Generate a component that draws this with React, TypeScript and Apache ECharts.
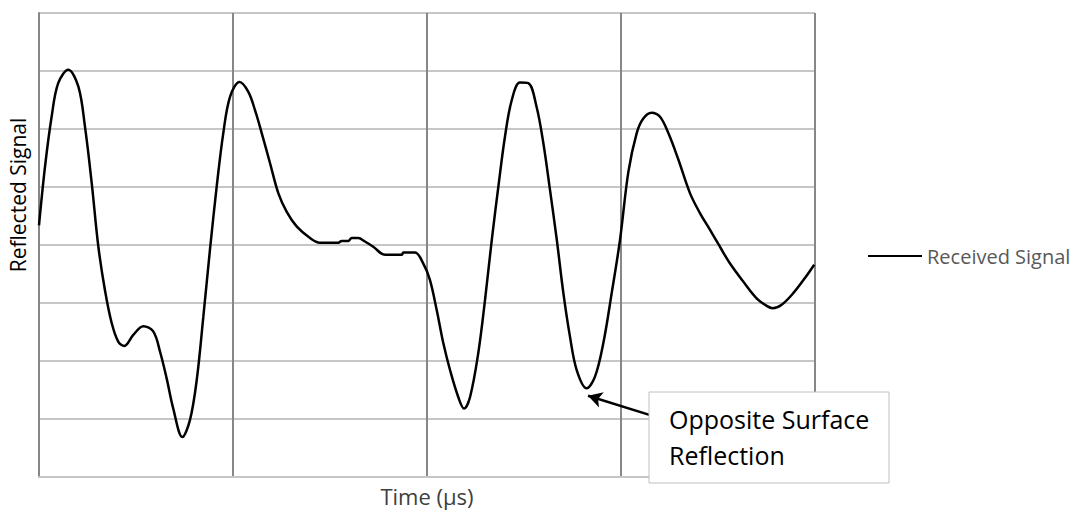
import React, { useEffect, useRef } from "react";
import * as echarts from "echarts";

const seriesName = "Received Signal";
const xTitle = "Time (µs)";
const yTitle = "Reflected Signal";
const noteLines = ["Opposite Surface", "Reflection"];

const timeValues = [
  0, 0.31, 0.65, 0.99, 1.51, 2.03, 2.37, 2.72, 3.06, 3.4, 3.75, 4.09, 4.4, 4.86, 5.38, 5.89, 6.24, 6.58, 6.92, 7.39,
  7.78, 8.13, 8.47, 8.81, 9.16, 9.5, 9.85, 10.34, 10.79, 11.13, 11.48, 11.91, 12.34, 12.77, 13.28, 13.97, 14.48,
  15.43, 15.6, 15.94, 16.12, 16.46, 16.8, 17.23, 17.84, 18.7, 18.78, 19.38, 19.81, 20.15, 20.5, 20.84, 21.19,
  21.61, 21.91, 22.22, 22.64, 22.99, 23.34, 23.68, 24.02, 24.37, 24.79, 25.22, 25.65, 26.0, 26.34, 26.69, 27.03,
  27.37, 27.72, 28.23, 28.66, 29.09, 29.52, 29.95, 30.38, 30.81, 31.15, 31.58, 32.01, 32.44, 32.96, 33.56, 34.07,
  34.59, 35.1, 35.62, 36.3, 36.99, 37.51, 37.82, 38.28, 38.88, 39.48, 39.96,
];
const signalValues = [
  4.34, 5.35, 6.21, 6.79, 7.02, 6.73, 6.04, 5.06, 3.97, 3.22, 2.65, 2.33, 2.26, 2.45, 2.6, 2.51, 2.16, 1.7, 1.18, 0.69,
  0.98, 1.67, 2.76, 3.91, 5.01, 5.93, 6.56, 6.81, 6.64, 6.33, 5.93, 5.41, 4.89, 4.57, 4.32, 4.12, 4.04, 4.04, 4.07,
  4.07, 4.12, 4.12, 4.06, 3.97, 3.83, 3.83, 3.87, 3.87, 3.68, 3.4, 2.88, 2.31, 1.84, 1.38, 1.18, 1.38, 2.13, 3.05,
  4.09, 5.01, 5.87, 6.5, 6.8, 6.79, 6.38, 5.75, 4.95, 4.09, 3.17, 2.42, 1.84, 1.53, 1.73, 2.31, 3.17, 4.09, 5.26,
  5.93, 6.18, 6.28, 6.21, 5.93, 5.47, 4.89, 4.55, 4.26, 3.97, 3.68, 3.37, 3.08, 2.95, 2.91, 2.97, 3.17, 3.43, 3.66,
];
const arrowTail = [31.96, 1.02];
const arrowTip = [28.3, 1.4];

const FONT = "'Open Sans', sans-serif";

export default function App() {
  const ref = useRef<HTMLDivElement>(null);
  useEffect(() => {
    if (!ref.current) return;
    const chart = echarts.init(ref.current, null, { renderer: "svg" });
    const data = timeValues.map((t, i) => [t, signalValues[i]]);
    chart.setOption({
      animation: false,
      backgroundColor: "#ffffff",
      grid: { left: 39, top: 13, right: 268, bottom: 35, containLabel: false },
      xAxis: {
        type: "value",
        min: 0,
        max: 40,
        interval: 10,
        name: xTitle,
        nameLocation: "middle",
        nameGap: 8,
        nameTextStyle: { fontFamily: FONT, fontSize: 22, color: "#404040" },
        axisLine: { show: true, lineStyle: { color: "#c6c6c6", width: 2 } },
        axisTick: { show: false },
        axisLabel: { show: false },
        splitLine: { show: true, lineStyle: { color: "#878787", width: 2 } },
      },
      yAxis: {
        type: "value",
        min: 0,
        max: 8,
        interval: 1,
        axisLine: { show: true, lineStyle: { color: "#878787", width: 2 } },
        axisTick: { show: false },
        axisLabel: { show: false },
        splitLine: { show: true, lineStyle: { color: "#c6c6c6", width: 2 } },
      },
      legend: {
        show: true,
        left: 863,
        top: 241,
        orient: "vertical",
        itemWidth: 54,
        itemHeight: 14,
        textStyle: { fontFamily: FONT, fontSize: 20, color: "#595959" },
        data: [{ name: seriesName, icon: "path://M0,0 L54,0 L54,2 L0,2 Z" }],
      },
      series: [
        {
          name: seriesName,
          type: "line",
          data,
          smooth: 0.35,
          symbol: "none",
          showSymbol: false,
          lineStyle: { color: "#000000", width: 2.5 },
          itemStyle: { color: "#000000" },
          markLine: {
            silent: true,
            animation: false,
            symbolSize: [12, 14],
            label: { show: false },
            lineStyle: { color: "#000000", width: 2.5, type: "solid" },
            data: [
              [
                { coord: arrowTail, symbol: "none" },
                { coord: arrowTip, symbol: "arrow" },
              ],
            ],
          },
        },
      ],
      graphic: [
        {
          type: "rect",
          z: 100,
          shape: { x: 649, y: 392, width: 240, height: 91 },
          style: { fill: "#ffffff", stroke: "#c0c0c0", lineWidth: 1 },
        },
        {
          type: "text",
          z: 101,
          x: 669,
          y: 419,
          style: {
            text: noteLines[0],
            fontFamily: FONT,
            fontSize: 25,
            fill: "#000000",
            verticalAlign: "middle",
          },
        },
        {
          type: "text",
          z: 101,
          x: 669,
          y: 455,
          style: {
            text: noteLines[1],
            fontFamily: FONT,
            fontSize: 25,
            fill: "#000000",
            verticalAlign: "middle",
          },
        },
        {
          type: "text",
          z: 101,
          x: 18,
          y: 195,
          rotation: Math.PI / 2,
          style: {
            text: yTitle,
            fontFamily: FONT,
            fontSize: 21,
            fill: "#000000",
            align: "center",
            verticalAlign: "middle",
          },
        },
      ],
    });
    return () => chart.dispose();
  }, []);
  return (
    <div
      ref={ref}
      style={{ position: "fixed", left: 0, top: 0, width: 1083, height: 512 }}
    />
  );
}
